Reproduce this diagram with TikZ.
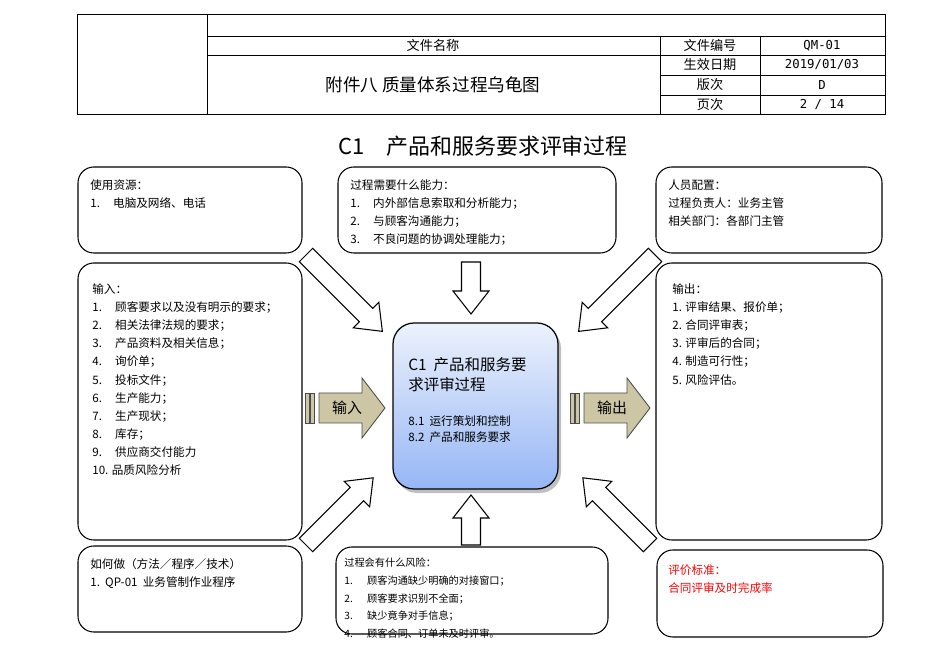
\documentclass[tikz,border=0pt]{standalone}
\usepackage{fontspec}
\setmainfont{Noto Sans CJK SC}
\newfontfamily\monof{DejaVu Sans Mono}
\definecolor{khaki}{RGB}{205,198,165}
\definecolor{cbot}{RGB}{150,182,245}
\definecolor{ctop}{RGB}{236,242,252}
\begin{document}
\begin{tikzpicture}[x=0.02cm,y=-0.02cm,
  box/.style={draw,line width=0.6pt,rounded corners=9pt},
  txt/.style={anchor=north west,align=left,inner sep=0pt,font=\fontsize{6.6}{10.4}\selectfont},
  hdr/.style={font=\fontsize{7.5}{9}\selectfont,inner sep=0pt},
  hollow/.style={draw,line width=0.6pt,fill=white},
  tan/.style={draw=black!70,line width=0.5pt,fill=khaki}]
\newcommand{\itm}[2]{\makebox[13pt][l]{#1}#2}
\newcommand{\barrow}[4]{% x,y,angle,length
 \begin{scope}[shift={(#1,#2)},rotate=#3]
 \draw[hollow] (0,-9.5)--(#4-23,-9.5)--(#4-23,-18)--(#4,0)--(#4-23,18)--(#4-23,9.5)--(0,9.5)--cycle;
 \end{scope}}
\useasboundingbox (0,0) rectangle (950,658);
% header
\draw[line width=0.5pt] (77,14) rectangle (885,114);
\draw[line width=0.5pt] (207,14)--(207,114) (207,36)--(885,36) (207,55)--(885,55)
 (660,75)--(885,75) (660,95)--(885,95) (660,36)--(660,114) (760,36)--(760,114);
\node[hdr] (h1) at (433,45.5) {文件名称};
\node[hdr,font=\fontsize{10}{12}\selectfont] (h2) at (433,85) {附件八\ 质量体系过程乌龟图};
\node[hdr] (h3) at (710,45.5) {文件编号};
\node[hdr] (h4) at (710,65) {生效日期};
\node[hdr] (h5) at (710,85) {版次};
\node[hdr] (h6) at (710,104.5) {页次};
\node[hdr,font=\monof\fontsize{7}{9}\selectfont] (h7) at (822,45.5) {QM-01};
\node[hdr,font=\monof\fontsize{7}{9}\selectfont] (h8) at (822,65) {2019/01/03};
\node[hdr,font=\monof\fontsize{7}{9}\selectfont] (h9) at (822,85) {D};
\node[hdr,font=\monof\fontsize{7}{9}\selectfont] (h10) at (822,104.5) {2 / 14};
\node[font=\fontsize{12.5}{14}\selectfont] (title) at (483,146) {C1\quad 产品和服务要求评审过程};
% boxes
\draw[box] (78,167) rectangle (302,253);
\draw[box] (338,167) rectangle (616,253);
\draw[box] (656,167) rectangle (882,253);
\draw[box] (78,263) rectangle (302,540);
\draw[box] (656,263) rectangle (882,540);
\draw[box] (78,546) rectangle (302,632);
\draw[box] (336,547) rectangle (608,634);
\draw[box] (657,550) rectangle (883,637);
\node[txt] (t1) at (90,179) {使用资源：\\\itm{1.}{电脑及网络、电话}};
\node[txt] (t2) at (350,179) {过程需要什么能力：\\\itm{1.}{内外部信息索取和分析能力；}\\\itm{2.}{与顾客沟通能力；}\\\itm{3.}{不良问题的协调处理能力；}};
\node[txt] (t3) at (668,179) {人员配置：\\过程负责人：业务主管\\相关部门：各部门主管};
\node[txt,font=\fontsize{6.6}{10.35}\selectfont] (t4) at (92,283) {输入：\\\itm{1.}{顾客要求以及没有明示的要求；}\\\itm{2.}{相关法律法规的要求；}\\\itm{3.}{产品资料及相关信息；}\\\itm{4.}{询价单；}\\\itm{5.}{投标文件；}\\\itm{6.}{生产能力；}\\\itm{7.}{生产现状；}\\\itm{8.}{库存；}\\\itm{9.}{供应商交付能力}\\10. 品质风险分析};
\node[txt,font=\fontsize{6.6}{10.35}\selectfont] (t5) at (672,283) {输出：\\1. 评审结果、报价单；\\2. 合同评审表；\\3. 评审后的合同；\\4. 制造可行性；\\5. 风险评估。};
\node[txt] (t6) at (90,558) {如何做（方法／程序／技术）\\1.\ \ QP-01\ \ 业务管制作业程序};
\node[txt,font=\fontsize{5.8}{10}\selectfont] (t7) at (344,558) {过程会有什么风险：\\\itm{1.}{顾客沟通缺少明确的对接窗口；}\\\itm{2.}{顾客要求识别不全面；}\\\itm{3.}{缺少竟争对手信息；}\\\itm{4.}{顾客合同、订单未及时评审。}};
\node[txt,text=red] (t8) at (668,564) {评价标准：\\合同评审及时完成率};
% center
\fill[black!25,rounded corners=12pt] (396,327) rectangle (561,493);
\shade[top color=ctop,bottom color=cbot,draw=black,line width=0.7pt,rounded corners=12pt] (393,323) rectangle (558,489);
\node[txt,font=\fontsize{8.8}{11.5}\selectfont] (c1) at (408,357) {C1\ \ 产品和服务要\\求评审过程};
\node[txt,font=\fontsize{6.6}{9.5}\selectfont] (c2) at (408,415) {8.1\ \ 运行策划和控制\\8.2\ \ 产品和服务要求};
% arrows
\barrow{471}{262}{-90}{52}
\barrow{471}{545}{90}{50}
\barrow{306}{255}{-45}{108}
\barrow{655}{255}{-135}{108}
\barrow{306}{545}{45}{95}
\barrow{650}{545}{135}{95}
% input/output
\foreach \x in {305,310}{\fill[tan] (\x,393) rectangle (\x+4,423);}
\draw[tan] (319,393)--(362,393)--(362,378)--(385,408)--(362,438)--(362,423)--(319,423)--cycle;
\node[font=\fontsize{8.5}{10}\selectfont] (in) at (347,408) {输入};
\foreach \x in {570,575}{\fill[tan] (\x,393) rectangle (\x+4,423);}
\draw[tan] (584,393)--(627,393)--(627,378)--(650,408)--(627,438)--(627,423)--(584,423)--cycle;
\node[font=\fontsize{8.5}{10}\selectfont] (out) at (612,408) {输出};
\end{tikzpicture}
\end{document}
